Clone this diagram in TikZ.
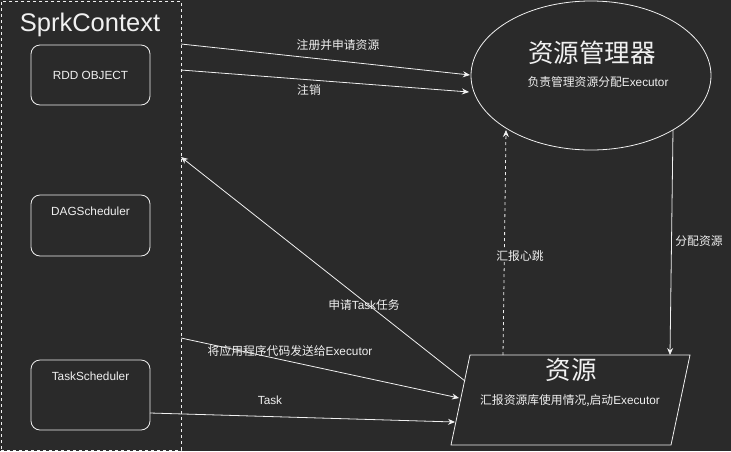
\documentclass[tikz,border=0pt]{standalone}
\usepackage{fontspec}
\setmainfont{Liberation Sans}
\newfontfamily\cjk{Noto Sans CJK SC}
\usetikzlibrary{shapes.geometric,arrows.meta}
\definecolor{bg}{HTML}{2A2A2A}
\definecolor{fg}{HTML}{F0F0F0}
\newcommand{\zh}[1]{{\cjk #1}}
\begin{document}
\begin{tikzpicture}[x=1pt,y=-1pt,
  line/.style={draw=fg,line width=0.8pt},
  arr/.style={line,-{Stealth[length=7pt,width=6pt]}},
  rbox/.style={line,rounded corners=9pt,minimum width=119pt,minimum height=60pt,inner sep=0pt},
  small/.style={text=fg,font=\fontsize{11.8}{13}\selectfont,inner sep=1pt},
  boxtxt/.style={text=fg,font=\fontsize{11.8}{13}\selectfont},
  big/.style={text=fg,font=\fontsize{25.5}{28}\selectfont\cjk}]
\fill[bg] (0,0) rectangle (731,451);
\useasboundingbox (0,0) rectangle (731,451);
% SprkContext container
\node[draw=fg,dashed,line width=0.8pt,minimum width=180pt,minimum height=449pt,inner sep=0pt] (ctx) at (91,225.5) {};
\node[text=fg,font=\fontsize{25.5}{28}\selectfont,anchor=center] (ctxt) at (90,25) {SprkContext};
% inner boxes
\node[rbox] (rdd) at (90.5,75) {};
\node[boxtxt] (rddt) at (90.5,75) {RDD OBJECT};
\node[rbox,minimum height=61pt] (dag) at (90.5,225.5) {};
\node[boxtxt] (dagt) at (90.5,211) {DAGScheduler};
\node[rbox,minimum height=70pt] (task) at (90.5,395) {};
\node[boxtxt] (taskt) at (90.5,376) {TaskScheduler};
% ellipse
\node[ellipse,line,minimum width=240pt,minimum height=149pt,inner sep=0pt] (rm) at (591,75.5) {};
\node[big] (rmt) at (592,53) {资源管理器};
\node[small] (rms) at (598,82) {\zh{负责管理资源分配}Executor};
% parallelogram
\path[line] (470,355) coordinate (p1) -- (690,355) coordinate (p2) -- (671,445) coordinate (p3) -- (451,445) coordinate (p4) -- cycle;
\node[big] (res) at (571,370) {资源};
\node[small] (ress) at (570,401) {\zh{汇报资源库使用情况,启动}Executor};
% connectors
\coordinate (a1s) at (181,44); \coordinate (a1e) at (470,75);
\draw[arr] (a1s) -- (a1e);
\node[small] (l1) at (338,45) {\zh{注册并申请资源}};
\coordinate (a2s) at (181,70); \coordinate (a2e) at (469,92);
\draw[arr] (a2s) -- (a2e);
\node[small] (l2) at (309,90) {\zh{注销}};
\coordinate (a3s) at (465,381); \coordinate (a3e) at (181,157);
\draw[arr] (a3s) -- (a3e);
\node[small] (l3) at (364,305) {\zh{申请}Task\zh{任务}};
\coordinate (a4s) at (181,338); \coordinate (a4e) at (459,398);
\draw[arr] (a4s) -- (a4e);
\node[small] (l4) at (290,351) {\zh{将应用程序代码发送给}Executor};
\coordinate (a5s) at (150,413); \coordinate (a5e) at (455,422);
\draw[arr] (a5s) -- (a5e);
\node[small] (l5) at (270,400) {Task};
\coordinate (a6s) at (503,355); \coordinate (a6e) at (506,130);
\draw[arr,dashed] (a6s) -- (a6e);
\node[small,fill=bg] (l6) at (520,256) {\zh{汇报心跳}};
\coordinate (a7s) at (673,130); \coordinate (a7e) at (670,355);
\draw[arr] (a7s) -- (a7e);
\node[small,fill=bg] (l7) at (699,241) {\zh{分配资源}};
\end{tikzpicture}
\end{document}
